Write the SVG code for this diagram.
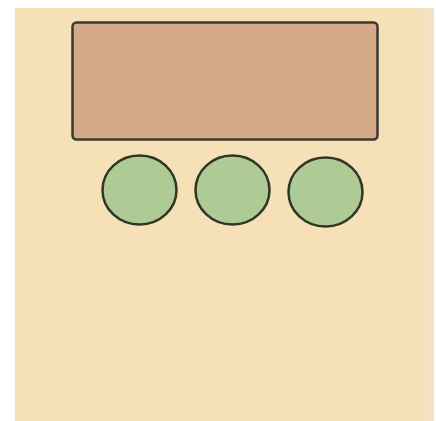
<svg xmlns="http://www.w3.org/2000/svg" width="436" height="421" viewBox="0 0 436 421">
<style>
.bin{fill:#aecb95;stroke:#2f3527;stroke-width:2.5}
</style>
<rect x="0" y="0" width="436" height="421" fill="#ffffff"/>
<rect x="15" y="8" width="406" height="413" fill="#f6e0b7"/>
<rect x="421" y="8" width="13" height="413" fill="#f3e2c0"/>
<g id="tray">
<rect x="72.5" y="22.5" width="305" height="117" rx="4" fill="#d4a98a" stroke="#3a3a30" stroke-width="2.5"/>
</g>
<g id="bin1"><ellipse class="bin" cx="139.5" cy="190" rx="37" ry="34.5"/></g>
<g id="bin2"><ellipse class="bin" cx="232.5" cy="190" rx="37" ry="34.5"/></g>
<g id="bin3"><ellipse class="bin" cx="325.5" cy="192" rx="37" ry="34.5"/></g>
<g id="connectors"></g>
</svg>
